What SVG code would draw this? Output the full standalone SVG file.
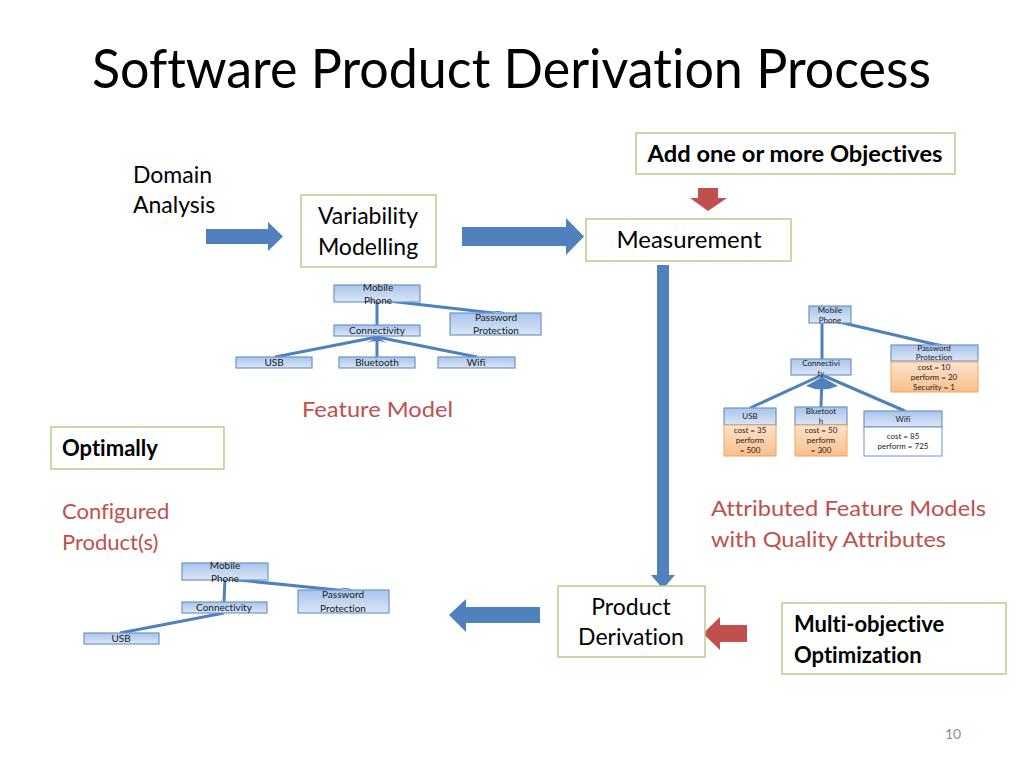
<svg xmlns="http://www.w3.org/2000/svg" width="1024" height="768" viewBox="0 0 1024 768">
<defs>
<linearGradient id="gb" x1="0" y1="0" x2="0" y2="1"><stop offset="0" stop-color="#a9c4eb"/><stop offset="1" stop-color="#dbe6f6"/></linearGradient>
<linearGradient id="go" x1="0" y1="0" x2="0" y2="1"><stop offset="0" stop-color="#fde3cc"/><stop offset="1" stop-color="#f9bf8a"/></linearGradient>
<style>
text{font-family:Lato,"Liberation Sans",sans-serif;fill:#000;font-variant-ligatures:none;font-feature-settings:"liga" 0}
.t{font-size:23px}
.b{font-size:22px;font-weight:bold}
.r{font-size:22px;fill:#c0504d}
.box{fill:#fff;stroke:#b9cc8c;stroke-width:1.5}
.fb{fill:url(#gb);stroke:#6f94c8;stroke-width:1.2}
.fo{fill:url(#go);stroke:#f2a561;stroke-width:1}
.fw{fill:#fff;stroke:#6f94c8;stroke-width:1}
.s{font-size:10px;text-anchor:middle;fill:#1a1a1a}
.xs{font-size:8px;text-anchor:middle;fill:#1a1a1a}
.ln{stroke:#4f81bd;stroke-width:3;fill:none}
.ab{fill:#4f81bd}
.ar{fill:#c0504d}
</style>
</defs>
<rect width="1024" height="768" fill="#fff"/>
<text x="92" y="88" font-size="55" textLength="839" lengthAdjust="spacingAndGlyphs">Software Product Derivation Process</text>

<g id="connectors">
<polygon class="ab" points="206,229 268,229 268,222 283,236.5 268,251 268,244 206,244"/>
<polygon class="ab" points="462,227 566,227 566,218 584,236.5 566,255 566,246 462,246"/>
<polygon class="ar" points="698,188 718,188 718,198 727,198 708,211 690,198 698,198"/>
<polygon class="ab" points="657,265 669,265 669,575 675,575 663,589 651,575 657,575"/>
<polygon class="ab" points="540,607 466,607 466,599 449,615 466,632 466,623 540,623"/>
<polygon class="ar" points="747,625 720,625 720,617 703,633.5 720,650 720,642 747,642"/>
<line class="ln" x1="377" y1="300" x2="377" y2="325"/>
<line class="ln" x1="380" y1="300" x2="502" y2="314"/>
<ellipse cx="498" cy="314" rx="7" ry="2.5" fill="#fff" stroke="#4f81bd" stroke-width="1"/>
<line class="ln" x1="377" y1="337" x2="275" y2="357"/>
<line class="ln" x1="377" y1="337" x2="377" y2="357"/>
<line class="ln" x1="377" y1="337" x2="477" y2="357"/>
<path class="ab" d="M377,337 L367,343 Q377,339 387,343 Z"/>
<line class="ln" x1="822" y1="322" x2="822" y2="359"/>
<line class="ln" x1="826" y1="319" x2="942" y2="346"/>
<ellipse cx="938" cy="346" rx="5" ry="2" fill="#fff" stroke="#4f81bd" stroke-width="1"/>
<line class="ln" x1="822" y1="375" x2="750" y2="408"/>
<line class="ln" x1="822" y1="375" x2="821" y2="407"/>
<line class="ln" x1="822" y1="375" x2="905" y2="411"/>
<path class="ab" d="M822,377 L806,386 Q822,393 838,386 Z"/>
<line class="ln" x1="225" y1="579" x2="224" y2="602"/>
<line class="ln" x1="228" y1="579" x2="347" y2="591"/>
<ellipse cx="345" cy="591" rx="7" ry="2.5" fill="#fff" stroke="#4f81bd" stroke-width="1"/>
<line class="ln" x1="224" y1="613" x2="120" y2="633"/>
</g>

<g id="add-objectives"><rect class="box" x="636" y="133" width="319" height="41"/><text class="b" x="795" y="162" text-anchor="middle" font-size="21" textLength="295" lengthAdjust="spacingAndGlyphs">Add one or more Objectives</text></g>
<g id="domain-analysis"><text class="t" x="133" y="183">Domain</text><text class="t" x="133" y="213">Analysis</text></g>
<g id="variability-modelling"><rect class="box" x="301" y="195" width="135" height="72"/><text class="t" x="368" y="224" text-anchor="middle">Variability</text><text class="t" x="368" y="255" text-anchor="middle">Modelling</text></g>
<g id="measurement"><rect class="box" x="586" y="219" width="205" height="42"/><text class="t" x="689" y="248" text-anchor="middle" textLength="145" lengthAdjust="spacingAndGlyphs">Measurement</text></g>

<g id="fm-mobile"><rect class="fb" x="334" y="285" width="86" height="17"/><text class="s" x="378" y="291">Mobile</text><text class="s" x="378" y="304">Phone</text></g>
<g id="fm-password"><rect class="fb" x="450" y="313" width="91" height="22"/><text class="s" x="496" y="321">Password</text><text class="s" x="496" y="334">Protection</text></g>
<g id="fm-connectivity"><rect class="fb" x="334" y="325" width="86" height="11"/><text class="s" x="377" y="334">Connectivity</text></g>
<g id="fm-usb"><rect class="fb" x="236" y="357" width="76" height="11"/><text class="s" x="274" y="366">USB</text></g>
<g id="fm-bluetooth"><rect class="fb" x="339" y="357" width="76" height="11"/><text class="s" x="377" y="366">Bluetooth</text></g>
<g id="fm-wifi"><rect class="fb" x="438" y="357" width="77" height="11"/><text class="s" x="476" y="366">Wifi</text></g>
<g id="feature-model-label"><text class="r" x="302" y="417" textLength="151" lengthAdjust="spacingAndGlyphs">Feature Model</text></g>

<g id="afm-mobile"><rect class="fb" x="809" y="306" width="42" height="17"/><text class="xs" x="830" y="313">Mobile</text><text class="xs" x="830" y="323">Phone</text></g>
<g id="afm-password"><rect class="fb" x="891" y="345" width="87" height="16"/><text class="xs" x="934" y="351">Password</text><text class="xs" x="934" y="360">Protection</text><rect class="fo" x="891" y="362" width="87" height="30"/><text class="xs" x="934" y="370">cost = 10</text><text class="xs" x="934" y="380">perform = 20</text><text class="xs" x="934" y="390">Security = 1</text></g>
<g id="afm-connectivity"><rect class="fb" x="791" y="359" width="60" height="16"/><text class="xs" x="821" y="366">Connectivi</text><text class="xs" x="821" y="376">ty</text></g>
<g id="afm-usb"><rect class="fb" x="724" y="408" width="52" height="17"/><text class="xs" x="750" y="419">USB</text><rect class="fo" x="724" y="425" width="52" height="31"/><text class="xs" x="750" y="433">cost = 35</text><text class="xs" x="750" y="443">perform</text><text class="xs" x="750" y="453">= 500</text></g>
<g id="afm-bluetooth"><rect class="fb" x="795" y="407" width="52" height="18"/><text class="xs" x="821" y="414">Bluetoot</text><text class="xs" x="821" y="424">h</text><rect class="fo" x="795" y="425" width="52" height="31"/><text class="xs" x="821" y="433">cost = 50</text><text class="xs" x="821" y="443">perform</text><text class="xs" x="821" y="453">= 300</text></g>
<g id="afm-wifi"><rect class="fb" x="864" y="411" width="78" height="16"/><text class="xs" x="903" y="422">Wifi</text><rect class="fw" x="864" y="427" width="78" height="29"/><text class="xs" x="903" y="439">cost = 85</text><text class="xs" x="903" y="449">perform =  725</text></g>

<g id="optimally"><rect class="box" x="51" y="427" width="173" height="42"/><text class="b" x="62" y="456">Optimally</text></g>
<g id="configured-label"><text class="r" x="62" y="519">Configured</text><text class="r" x="62" y="550">Product(s)</text></g>
<g id="afm-label"><text class="r" x="711" y="516" textLength="275" lengthAdjust="spacingAndGlyphs">Attributed Feature Models</text><text class="r" x="711" y="547" textLength="235" lengthAdjust="spacingAndGlyphs">with Quality Attributes</text></g>

<g id="cp-mobile"><rect class="fb" x="182" y="563" width="86" height="17"/><text class="s" x="225" y="569">Mobile</text><text class="s" x="225" y="582">Phone</text></g>
<g id="cp-password"><rect class="fb" x="298" y="590" width="91" height="23"/><text class="s" x="343" y="598">Password</text><text class="s" x="343" y="612">Protection</text></g>
<g id="cp-connectivity"><rect class="fb" x="182" y="602" width="85" height="11"/><text class="s" x="224" y="611">Connectivity</text></g>
<g id="cp-usb"><rect class="fb" x="84" y="633" width="75" height="11"/><text class="s" x="121" y="642">USB</text></g>

<g id="product-derivation"><rect class="box" x="558" y="586" width="147" height="71"/><text class="t" x="631" y="615" text-anchor="middle">Product</text><text class="t" x="631" y="645" text-anchor="middle">Derivation</text></g>
<g id="multi-objective"><rect class="box" x="782" y="603" width="224" height="71"/><text class="b" x="794" y="632">Multi-objective</text><text class="b" x="794" y="663">Optimization</text></g>
<text x="945" y="739" font-size="14" style="fill:#8c8c8c">10</text>
</svg>
